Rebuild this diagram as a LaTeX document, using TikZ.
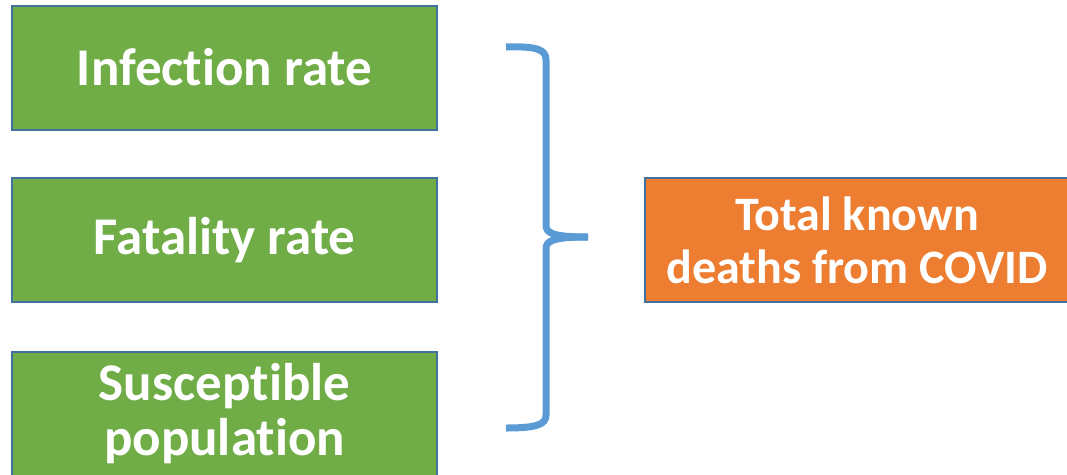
\documentclass[tikz,border=0pt]{standalone}
\usepackage{fontspec}
\setmainfont{Carlito}[Ligatures=NoCommon]
\definecolor{boxgreen}{HTML}{70AD47}
\definecolor{boxorange}{HTML}{ED7D31}
\definecolor{boxedge}{HTML}{41719C}
\definecolor{bracecol}{HTML}{5B9BD5}

\begin{document}
\begin{tikzpicture}[x=1pt,y=-1pt,
  factor/.style={draw=boxedge, line width=2pt, fill=boxgreen, text=white,
    minimum width=425pt, minimum height=124pt, align=center,
    font=\fontsize{53}{55}\selectfont\bfseries},
  result/.style={factor, fill=boxorange, font=\fontsize{48}{53}\selectfont\bfseries},
  brace/.style={draw=bracecol, line width=7pt}]
\useasboundingbox (0,0) rectangle (1067,474);
\clip (0,0) rectangle (1067,474);
\node[factor] (infection) at (224.5,67.5) {Infection rate};
\node[factor] (fatality) at (224.5,240) {Fatality rate};
\node[factor] (susceptible) at (224.5,413.5) {Susceptible\\population};
\node[result] (deaths) at (857,240) {Total known\\deaths from COVID};
\draw[brace] (506,47) .. controls (538,46) and (546,50) .. (546,60) -- (546,225)
  .. controls (546,233) and (552,237) .. (588,237);
\draw[brace] (588,237) .. controls (552,237) and (546,241) .. (546,249) -- (546,415)
  .. controls (546,424) and (538,428) .. (506,428);
\end{tikzpicture}
\end{document}
